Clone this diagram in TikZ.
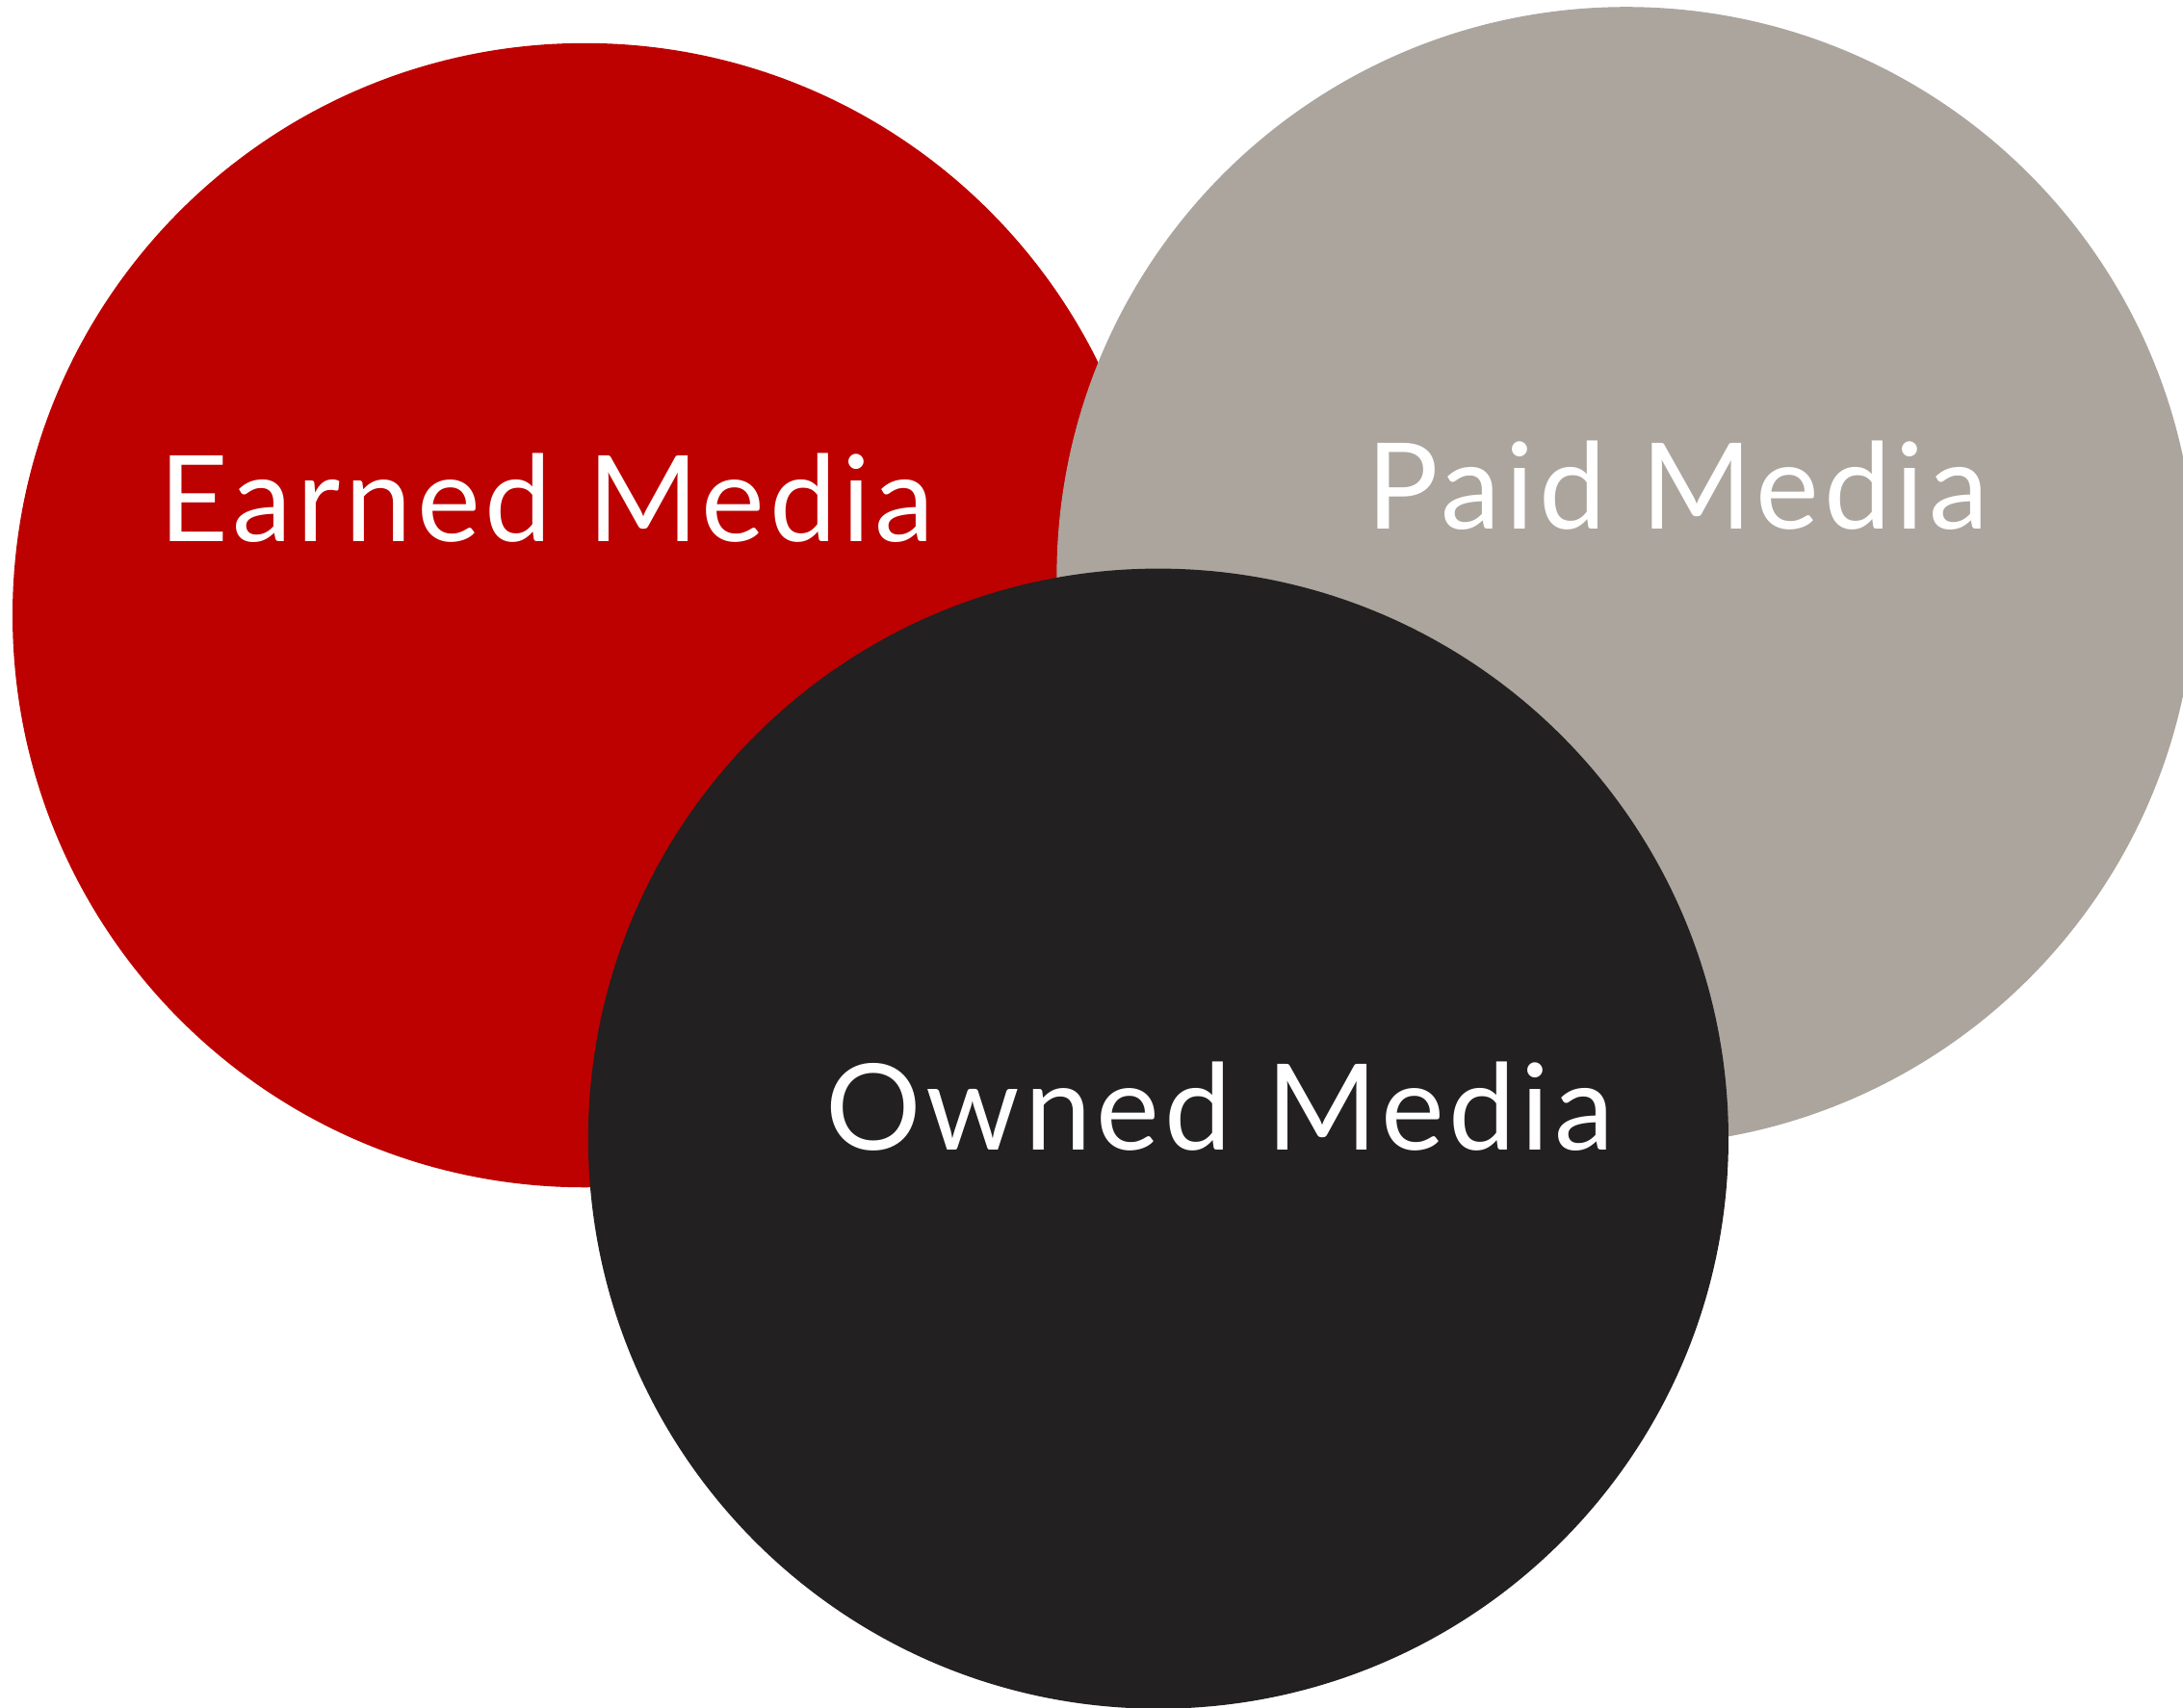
\documentclass[tikz,border=0pt]{standalone}
\usepackage{fontspec}
\setmainfont[LetterSpace=4]{Lato}
\definecolor{earnedred}{HTML}{BD0000}
\definecolor{paidgray}{HTML}{ABA59E}
\definecolor{owneddark}{HTML}{222020}
\tikzset{
  media/.style={circle,inner sep=0pt,minimum size=#1},
  medialabel/.style={text=white,anchor=base,font=\fontsize{43}{48}\selectfont}
}
\begin{document}
\begin{tikzpicture}[x=0.5pt,y=0.5pt]
  \useasboundingbox (0,0) rectangle (1568,1227);
  \node[media=822pt*0.5,fill=earnedred] (earned) at (420,785) {};
  \node[media=818pt*0.5,fill=paidgray] (paid) at (1168,813) {};
  \node[media=819pt*0.5,fill=owneddark] (owned) at (832,409) {};
  \node[medialabel] (earnedtext) at (393,838) {Earned Media};
  \node[medialabel] (paidtext) at (1205,847) {Paid Media};
  \node[medialabel] (ownedtext) at (876,401) {Owned Media};
\end{tikzpicture}
\end{document}
